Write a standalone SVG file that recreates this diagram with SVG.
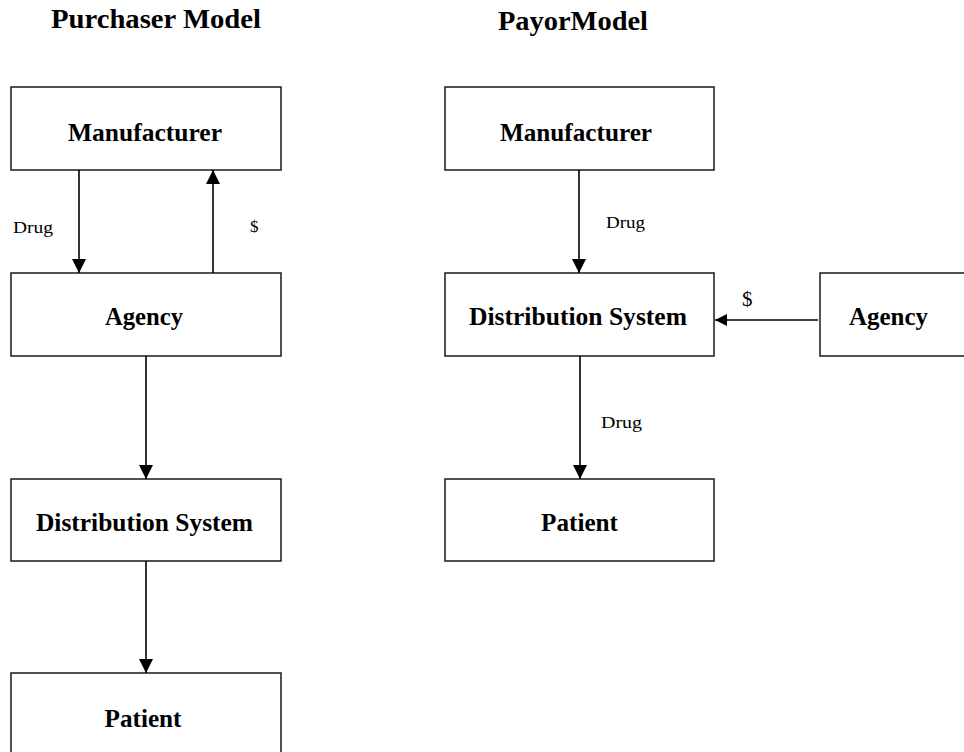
<svg xmlns="http://www.w3.org/2000/svg" width="964" height="752" viewBox="0 0 964 752">
<style>
.box{fill:#fff;stroke:#1a1a1a;stroke-width:1.5}
.nt{font-family:"Liberation Serif","Times New Roman",serif;font-weight:bold;font-size:25px;fill:#000;text-anchor:middle}
.tt{font-family:"Liberation Serif","Times New Roman",serif;font-weight:bold;font-size:28px;fill:#000;text-anchor:middle}
.lb{font-family:"Liberation Serif","Times New Roman",serif;font-size:17px;fill:#000}
.ln{stroke:#000;stroke-width:1.6;fill:none}
</style>
<defs>
<marker id="ah" markerUnits="userSpaceOnUse" markerWidth="14" markerHeight="14" viewBox="0 0 13 13" refX="13" refY="6.5" orient="auto">
<path d="M0,0 L13,6.5 L0,13 Z" fill="#000"/>
</marker>
<marker id="ahs" markerUnits="userSpaceOnUse" markerWidth="12" markerHeight="12" viewBox="0 0 10 10" refX="10" refY="5" orient="auto">
<path d="M0,0 L10,5 L0,10 Z" fill="#000"/>
</marker>
</defs>
<rect width="964" height="752" fill="#fff"/>
<text class="tt" x="156" y="28" textLength="210" lengthAdjust="spacingAndGlyphs">Purchaser Model</text>
<text class="tt" x="573" y="30" textLength="150" lengthAdjust="spacingAndGlyphs">PayorModel</text>

<g id="p-manufacturer"><rect class="box" x="11" y="87" width="270" height="83"/><text class="nt" x="145" y="141" textLength="154" lengthAdjust="spacingAndGlyphs">Manufacturer</text></g>
<g id="p-agency"><rect class="box" x="11" y="273" width="270" height="83"/><text class="nt" x="144" y="325" textLength="78" lengthAdjust="spacingAndGlyphs">Agency</text></g>
<g id="p-distribution"><rect class="box" x="11" y="479" width="270" height="82"/><text class="nt" x="144.5" y="531" textLength="217" lengthAdjust="spacingAndGlyphs">Distribution System</text></g>
<g id="p-patient"><rect class="box" x="11" y="673" width="270" height="90"/><text class="nt" x="143" y="727" textLength="77" lengthAdjust="spacingAndGlyphs">Patient</text></g>

<g id="y-manufacturer"><rect class="box" x="445" y="87" width="269" height="83"/><text class="nt" x="576" y="141" textLength="152" lengthAdjust="spacingAndGlyphs">Manufacturer</text></g>
<g id="y-distribution"><rect class="box" x="445" y="273" width="269" height="83"/><text class="nt" x="578" y="325" textLength="218" lengthAdjust="spacingAndGlyphs">Distribution System</text></g>
<g id="y-agency"><rect class="box" x="820" y="273" width="160" height="83"/><text class="nt" x="888.5" y="325" textLength="79" lengthAdjust="spacingAndGlyphs">Agency</text></g>
<g id="y-patient"><rect class="box" x="445" y="479" width="269" height="82"/><text class="nt" x="579.5" y="531" textLength="77" lengthAdjust="spacingAndGlyphs">Patient</text></g>

<g id="connectors">
<line class="ln" x1="79" y1="170" x2="79" y2="273" marker-end="url(#ah)"/>
<line class="ln" x1="213" y1="273" x2="213" y2="170" marker-end="url(#ah)"/>
<line class="ln" x1="146" y1="356" x2="146" y2="479" marker-end="url(#ah)"/>
<line class="ln" x1="146" y1="561" x2="146" y2="673" marker-end="url(#ah)"/>
<line class="ln" x1="579" y1="170" x2="579" y2="273" marker-end="url(#ah)"/>
<line class="ln" x1="580" y1="356" x2="580" y2="479" marker-end="url(#ah)"/>
<line class="ln" x1="818" y1="320" x2="715" y2="320" marker-end="url(#ahs)"/>
<text class="lb" x="13" y="233" textLength="40" lengthAdjust="spacingAndGlyphs">Drug</text>
<text class="lb" x="250" y="232">$</text>
<text class="lb" x="606" y="228" textLength="39" lengthAdjust="spacingAndGlyphs">Drug</text>
<text class="lb" x="742" y="306" style="font-size:21px">$</text>
<text class="lb" x="601" y="428" textLength="41" lengthAdjust="spacingAndGlyphs">Drug</text>
</g>
</svg>
